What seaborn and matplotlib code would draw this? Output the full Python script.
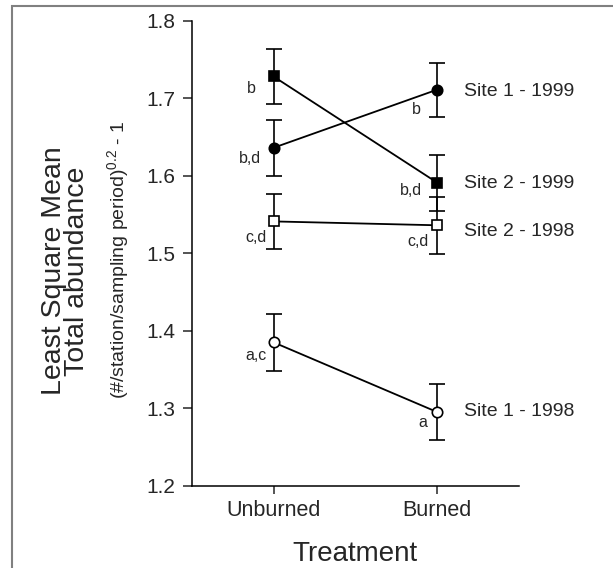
import matplotlib
matplotlib.use("Agg")
import matplotlib.pyplot as plt
import seaborn as sns
import pandas as pd
from matplotlib.patches import Rectangle

# Least square means (transformed total abundance)
treatments = ["Unburned", "Burned"]
series_names = ["Site 1 - 1999", "Site 2 - 1999", "Site 2 - 1998", "Site 1 - 1998"]
site1_1999 = [1.636, 1.711]
site2_1999 = [1.728, 1.591]
site2_1998 = [1.541, 1.536]
site1_1998 = [1.385, 1.295]
err_site1_1999 = [0.036, 0.035]
err_site2_1999 = [0.036, 0.036]
err_site2_1998 = [0.036, 0.037]
err_site1_1998 = [0.037, 0.036]
letters_site1_1999 = ["b,d", "b"]
letters_site2_1999 = ["b", "b,d"]
letters_site2_1998 = ["c,d", "c,d"]
letters_site1_1998 = ["a,c", "a"]

values = [site1_1999, site2_1999, site2_1998, site1_1998]
errors = [err_site1_1999, err_site2_1999, err_site2_1998, err_site1_1998]
letters = [letters_site1_1999, letters_site2_1999, letters_site2_1998, letters_site1_1998]

# style per series: marker, face colour, letter offsets (px), site label offset (px)
markers = ["o", "s", "s", "o"]
faces = ["black", "black", "white", "white"]
letter_offsets = [[(-12, -11), (-16, -20)],
                  [(-18, -12), (-15, -8)],
                  [(-7, -16), (-9, -16)],
                  [(-7, -13), (-10, -10)]]
site_offsets = [(27, -2), (27, -1), (27, -6), (27, 1)]

sns.set_style("ticks")
plt.rcParams["font.family"] = ["Liberation Sans", "DejaVu Sans"]
plt.rcParams["mathtext.fontset"] = "custom"
plt.rcParams["mathtext.rm"] = "Liberation Sans"
plt.rcParams["mathtext.it"] = "Liberation Sans:italic"

fig = plt.figure(figsize=(6.13, 5.68), dpi=100)
ax = fig.add_axes([0.3127, 0.1449, 0.8467 - 0.3127, 0.9636 - 0.1449])

pos = list(range(len(treatments)))
for name, vals, errs, mk, fc in zip(series_names, values, errors, markers, faces):
    df = pd.DataFrame({"x": pos, "y": vals})
    ax.errorbar(pos, vals, yerr=errs, fmt="none", ecolor="black",
                elinewidth=1.2, capsize=5.5, capthick=1.2, zorder=2)
    sns.lineplot(data=df, x="x", y="y", ax=ax, color="black", linewidth=1.3,
                 marker=mk, markersize=7.5, markerfacecolor=fc,
                 markeredgecolor="black", markeredgewidth=1.2, zorder=3)

for vals, labs, offs in zip(values, letters, letter_offsets):
    for xi, (v, lab, off) in enumerate(zip(vals, labs, offs)):
        ax.annotate(lab, (pos[xi], v), xytext=off, textcoords="offset pixels",
                    ha="right", va="center", fontsize=11.5)

for name, vals, off in zip(series_names, values, site_offsets):
    ax.annotate(name, (pos[-1], vals[-1]), xytext=off, textcoords="offset pixels",
                ha="left", va="center", fontsize=14, annotation_clip=False)

ax.set_xlim(-0.5, 1.5)
ax.set_ylim(1.2, 1.8)
ax.set_yticks([1.2, 1.3, 1.4, 1.5, 1.6, 1.7, 1.8])
ax.set_xticks(pos, treatments)
ax.tick_params(axis="y", direction="out", length=6.5, width=1.1, labelsize=15, pad=5)
ax.tick_params(axis="x", direction="out", length=6, width=1.1, labelsize=15.5, pad=4)
for s in ["top", "right"]:
    ax.spines[s].set_visible(False)
for s in ["left", "bottom"]:
    ax.spines[s].set_linewidth(1.1)
    ax.spines[s].set_color("black")
ax.set_xlabel("Treatment", fontsize=20, labelpad=14.5)
ax.set_ylabel("")

# y-axis title: two large lines plus the units line
W, H = 613, 568
fig.text(87 / W, 1 - 271 / H, "Least Square Mean\nTotal abundance", rotation=90,
         rotation_mode="anchor", ha="center", va="baseline", multialignment="center",
         linespacing=0.87, fontsize=20.5)
fig.text(124 / W, 1 - 260 / H, "(#/station/sampling period)$^{0.2}$ - 1", rotation=90,
         rotation_mode="anchor", ha="center", va="baseline", fontsize=14)

# grey frame around the figure
fig.add_artist(Rectangle((12 / W, -0.1), 1.2, 1 - 5.7 / H + 0.1, transform=fig.transFigure,
                         fill=False, edgecolor="#808080", linewidth=1.5))

fig.savefig("out.png", dpi=100)
